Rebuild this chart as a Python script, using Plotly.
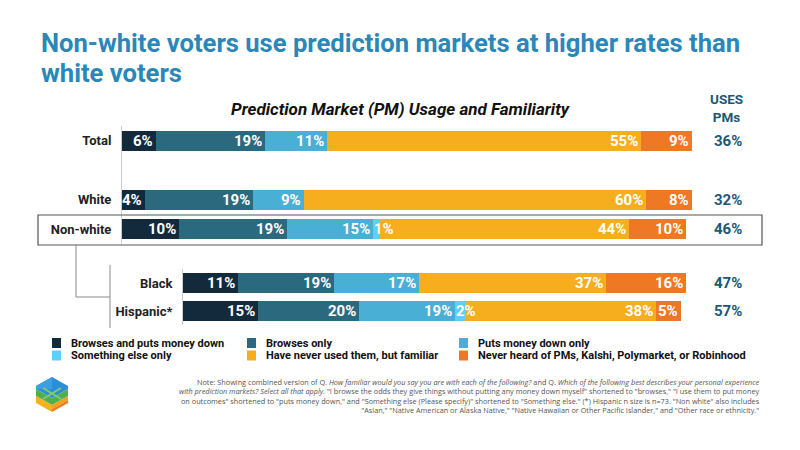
import plotly.graph_objects as go

# ---------------- data ----------------
groups_top = ["Total", "White", "Non-white"]
groups_bottom = ["Black", "Hispanic*"]
spacer = " "

series_names = [
    "Browses and puts money down",
    "Browses only",
    "Puts money down only",
    "Something else only",
    "Have never used them, but familiar",
    "Never heard of PMs, Kalshi, Polymarket, or Robinhood",
]
series_colors = ["#122a3c", "#2b6a7e", "#49afd5", "#5dd0f3", "#f6ae1f", "#ee7823"]

# values in order: Total, White, Non-white, Black, Hispanic*
browses_and_money = [6, 4, 10, 11, 15]
browses_only = [19, 19, 19, 19, 20]
money_only = [11, 9, 15, 17, 19]
something_else = [0, 0, 1, 0, 2]
never_used = [55, 60, 44, 37, 38]
never_heard = [9, 8, 10, 16, 5]
uses_pms = [36, 32, 46, 47, 57]

title_lines = ["Non-white voters use prediction markets at higher rates than", "white voters"]

series_values = [browses_and_money, browses_only, money_only, something_else, never_used, never_heard]
all_groups = groups_top + groups_bottom

FONT = "Roboto, sans-serif"
NOTE_FONT = "Open Sans, Roboto, sans-serif"

W, H = 800, 450


def px(x):
    return x / W


def py(y):
    return 1 - y / H


fig = go.Figure()

top_y = [groups_top[0], spacer, groups_top[1], groups_top[2]]
for name, color, vals in zip(series_names, series_colors, series_values):
    top_vals = [vals[0], None, vals[1], vals[2]]
    fig.add_trace(go.Bar(
        y=top_y, x=top_vals, orientation="h", name=name,
        marker=dict(color=color, line=dict(width=0)),
        legendgroup=name, showlegend=False, xaxis="x", yaxis="y",
        hoverinfo="skip",
    ))
    fig.add_trace(go.Bar(
        y=groups_bottom, x=vals[3:], orientation="h", name=name,
        marker=dict(color=color, line=dict(width=0)),
        legendgroup=name, showlegend=False, xaxis="x2", yaxis="y2",
        hoverinfo="skip",
    ))

teal = "#1e5873"
annotations = []
# value labels in the bars
for gi, g in enumerate(all_groups):
    yref = "y" if gi < 3 else "y2"
    xref = "x" if gi < 3 else "x2"
    cum = 0
    for vals in series_values:
        v = vals[gi]
        start = cum
        cum += v
        if v <= 0:
            continue
        if v < 3:
            annotations.append(dict(x=start, y=g, xref=xref, yref=yref, text=f"{v}%",
                                    showarrow=False, xanchor="left", xshift=-1,
                                    font=dict(family=FONT, size=15, color="white", weight="bold")))
        else:
            annotations.append(dict(x=cum, y=g, xref=xref, yref=yref, text=f"{v}%",
                                    showarrow=False, xanchor="right", xshift=-1,
                                    font=dict(family=FONT, size=15, color="white", weight="bold")))
    # uses PMs column
    annotations.append(dict(x=px(727.5), y=g, xref="paper", yref=yref, text=f"{uses_pms[gi]}%",
                            showarrow=False, xanchor="center",
                            font=dict(family=FONT, size=15, color=teal, weight="bold")))

for line, yc in zip(title_lines, [42.5, 73]):
    annotations.append(dict(x=px(40), y=py(yc), xref="paper", yref="paper", xanchor="left",
                            yanchor="middle", text=line, showarrow=False, borderpad=0,
                            font=dict(family=FONT, size=25.6, color="#2a87b8", weight="bold")))

annotations += [
    dict(x=px(401), y=py(109), xref="paper", yref="paper", xanchor="center", yanchor="middle",
         text="Prediction Market (PM) Usage and Familiarity", showarrow=False,
         font=dict(family=FONT, size=17, color="#111111", weight="bold", style="italic")),
    dict(x=px(726), y=py(107.5), xref="paper", yref="paper", xanchor="center", yanchor="middle",
         text="USES<br>PMs", showarrow=False,
         font=dict(family=FONT, size=13.5, color=teal, weight="bold")),
    dict(x=px(762), y=py(396), xref="paper", yref="paper", xanchor="right", yanchor="middle", align="right",
         text=("Note: Showing combined version of Q. <i>How familiar would you say you are with each of the following?</i> and Q. <i>Which of the following best describes your personal experience</i><br>"
               "<i>with prediction markets? Select all that apply.</i> \"I browse the odds they give things without putting any money down myself\" shortened to \"browses,\" \"I use them to put money<br>"
               "on outcomes\" shortened to \"puts money down,\" and \"Something else (Please specify)\" shortened to \"Something else.\" (*) Hispanic n size is n=73. \"Non white\" also includes<br>"
               "\"Asian,\" \"Native American or Alaska Native,\" \"Native Hawaiian or Other Pacific Islander,\" and \"Other race or ethnicity.\""),
         showarrow=False,
         font=dict(family=NOTE_FONT, size=7.3, color="#555555")),
]

shapes = [
    # Non-white highlight box
    dict(type="rect", xref="paper", yref="paper", x0=px(38), x1=px(762), y0=py(245), y1=py(215),
         line=dict(color="#555555", width=1.2), fillcolor="rgba(0,0,0,0)", layer="above"),
    # connector lines
    dict(type="path", xref="paper", yref="paper",
         path=f"M {px(76)} {py(245)} L {px(76)} {py(297)} L {px(110)} {py(297)}",
         line=dict(color="#8a8a8a", width=1)),
    dict(type="line", xref="paper", yref="paper", x0=px(110), x1=px(110), y0=py(265), y1=py(328),
         line=dict(color="#8a8a8a", width=1)),
]

# manual legend: 3 columns x 2 rows
legend_cols = [52, 247, 459]
legend_rows = [343, 355.5]
for i, (name, color) in enumerate(zip(series_names, series_colors)):
    col = legend_cols[i % 3]
    row = legend_rows[i // 3]
    shapes.append(dict(type="rect", xref="paper", yref="paper",
                       x0=px(col), x1=px(col + 9), y0=py(row + 5), y1=py(row - 5),
                       fillcolor=color, line=dict(width=0)))
    annotations.append(dict(x=px(col + 17), y=py(row), xref="paper", yref="paper",
                            xanchor="left", yanchor="middle", text=name, showarrow=False,
                            font=dict(family=FONT, size=11, color="#111111", weight="bold")))

# logo (isometric hexagon)
cx, top, half = 52, 377, 16
side_top, center_top = top + 9, top + 18


def band(d0, d1):
    return [(cx - half, side_top + d0), (cx, center_top + d0), (cx + half, side_top + d0),
            (cx + half, side_top + d1), (cx, center_top + d1), (cx - half, side_top + d1)]


logo_parts = [
    ("#2a8fd6", [(cx, top), (cx + half, side_top), (cx + half, side_top + 3), (cx, center_top + 3),
                 (cx - half, side_top + 3), (cx - half, side_top)]),
    ("#3c9fe3", [(cx, top), (cx - half, side_top), (cx - half, side_top + 3), (cx, center_top + 3 - 9)]),
    ("#4fae4f", band(3, 10)),
    ("#f4b21e", [(cx - half, side_top + 10), (cx, center_top + 10), (cx, center_top + 17), (cx - half, side_top + 17)]),
    ("#f2a21e", [(cx, center_top + 10), (cx + half, side_top + 10), (cx + half, side_top + 14), (cx, center_top + 14)]),
    ("#ef7b22", [(cx, center_top + 14), (cx + half, side_top + 14), (cx + half, side_top + 17), (cx, center_top + 17)]),
]
for color, pts in logo_parts:
    path = "M " + " L ".join(f"{px(x)} {py(y)}" for x, y in pts) + " Z"
    shapes.append(dict(type="path", xref="paper", yref="paper", path=path,
                       fillcolor=color, line=dict(width=0)))
shapes.append(dict(type="path", xref="paper", yref="paper",
                   path=(f"M {px(cx-9)} {py(top+11)} L {px(cx+9)} {py(top+22)} "
                         f"M {px(cx+9)} {py(top+11)} L {px(cx-9)} {py(top+22)}"),
                   line=dict(color="#86c873", width=2)))

fig.update_layout(
    width=W, height=H,
    margin=dict(l=0, r=0, t=0, b=0),
    paper_bgcolor="white", plot_bgcolor="white",
    barmode="stack", bargap=0.31,
    showlegend=False,
    xaxis=dict(domain=[px(122), px(692)], range=[0, 100], visible=False, fixedrange=True),
    yaxis=dict(domain=[py(244), py(126)], type="category", categoryorder="array",
               categoryarray=top_y, autorange="reversed",
               showgrid=False, zeroline=False, showline=True, linecolor="#cccccc", linewidth=1,
               ticks="", ticklabelstandoff=7,
               tickfont=dict(family=FONT, size=13, color="#222222", weight="bold")),
    xaxis2=dict(domain=[px(183), px(686)], range=[0, 100], visible=False, anchor="y2", fixedrange=True),
    yaxis2=dict(domain=[py(325), py(269)], type="category", categoryorder="array",
                categoryarray=groups_bottom, autorange="reversed", anchor="x2",
                showgrid=False, zeroline=False, showline=True, linecolor="#cccccc", linewidth=1,
                ticks="", ticklabelstandoff=7,
                tickfont=dict(family=FONT, size=13, color="#222222", weight="bold")),
    annotations=annotations,
    shapes=shapes,
)

fig.write_html("out.html")
